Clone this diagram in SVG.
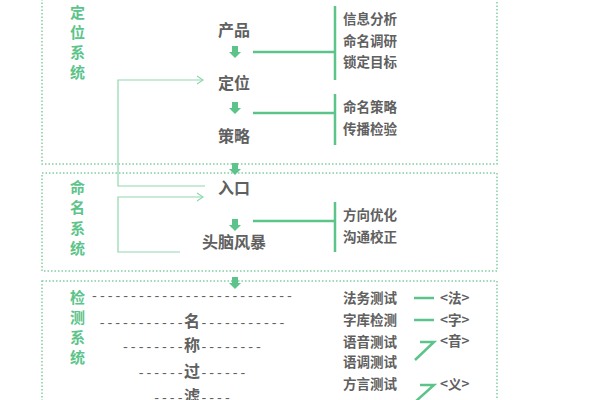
<svg xmlns="http://www.w3.org/2000/svg" width="600" height="400" viewBox="0 0 600 400">
<style>
.box{fill:none;stroke:#7fcf9f;stroke-width:1.5;stroke-dasharray:1.5 2}
.side{font-family:"Noto Sans CJK SC",sans-serif;font-size:15px;font-weight:bold;fill:#5cc48a}
.main{font-family:"Noto Sans CJK SC",sans-serif;font-size:16px;font-weight:bold;fill:#606060;text-anchor:middle}
.r{font-family:"Noto Sans CJK SC",sans-serif;font-size:13.5px;font-weight:bold;fill:#606060}
.g{stroke:#5cc48a;stroke-width:2.5;fill:none}
.t{stroke:#8fd8b0;stroke-width:1.2;fill:none}
.d{font-family:"Liberation Mono","Noto Sans CJK SC",monospace;font-size:13px;fill:#606060;text-anchor:middle}
.c{font-family:"Noto Sans CJK SC",sans-serif;font-size:16px;font-weight:bold}
</style>
<defs>
<marker id="ah" markerWidth="8" markerHeight="10" refX="7" refY="5" orient="auto" markerUnits="userSpaceOnUse"><path d="M1,1 L7,5 L1,9" fill="none" stroke="#8fd8b0" stroke-width="1.2"/></marker>
<g id="dn"><rect x="-3" y="0" width="6" height="6" fill="#5cc48a"/><path d="M-6,6 L6,6 L0,12 Z" fill="#5cc48a"/></g>
</defs>
<rect width="600" height="400" fill="#fff"/>
<g id="boxes">
<rect class="box" x="42" y="-5" width="455" height="169"/>
<rect class="box" x="42" y="173" width="455" height="98"/>
<rect class="box" x="42" y="281" width="455" height="130"/>
</g>
<g id="sides">
<text class="side" x="70" y="18">定</text><text class="side" x="70" y="38">位</text><text class="side" x="70" y="58">系</text><text class="side" x="70" y="78">统</text>
<text class="side" x="70" y="193">命</text><text class="side" x="70" y="213">名</text><text class="side" x="70" y="234">系</text><text class="side" x="70" y="254">统</text>
<text class="side" x="70" y="303">检</text><text class="side" x="70" y="323">测</text><text class="side" x="70" y="343">系</text><text class="side" x="70" y="363">统</text>
</g>
<g id="connectors">
<use href="#dn" x="235" y="46"/><use href="#dn" x="235" y="102"/><use href="#dn" x="235" y="163"/><use href="#dn" x="235" y="219"/><use href="#dn" x="235" y="277"/>
<path class="g" d="M253,52 H335 M335,6 V80 M253,113 H335 M335,94 V145 M253,221 H335 M335,202 V252"/>
<path class="t" d="M205,186 H118 V80 H203" marker-end="url(#ah)"/>
<path class="t" d="M180,252 H118 V197 H203" marker-end="url(#ah)"/>
<path class="g" d="M414,298 H434 M414,320 H434 M415,360 L434,342 H420 M415,402 L434,385 H420"/>
</g>
<g id="main">
<text class="main" x="234" y="36">产品</text>
<text class="main" x="234" y="89">定位</text>
<text class="main" x="234" y="142">策略</text>
<text class="main" x="234" y="194">入口</text>
<text class="main" x="234" y="248">头脑风暴</text>
</g>
<g id="right">
<text class="r" x="343" y="24">信息分析</text><text class="r" x="343" y="46">命名调研</text><text class="r" x="343" y="67">锁定目标</text>
<text class="r" x="343" y="112">命名策略</text><text class="r" x="343" y="134">传播检验</text>
<text class="r" x="343" y="220">方向优化</text><text class="r" x="343" y="242">沟通校正</text>
<text class="r" x="343" y="303">法务测试</text><text class="r" x="343" y="325">字库检测</text><text class="r" x="343" y="347">语音测试</text><text class="r" x="343" y="367">语调测试</text><text class="r" x="343" y="389">方言测试</text>
<text class="r" x="440" y="303">&lt;法&gt;</text><text class="r" x="440" y="325">&lt;字&gt;</text><text class="r" x="440" y="346">&lt;音&gt;</text><text class="r" x="440" y="389">&lt;义&gt;</text>
</g>
<g id="filter">
<text class="d" x="192" y="300">--------------------------</text>
<text class="d" x="192" y="327">-----------<tspan class="c">名</tspan>-----------</text>
<text class="d" x="192" y="351">--------<tspan class="c">称</tspan>--------</text>
<text class="d" x="192" y="377">------<tspan class="c">过</tspan>------</text>
<text class="d" x="192" y="402">----<tspan class="c">滤</tspan>----</text>
</g>
</svg>
